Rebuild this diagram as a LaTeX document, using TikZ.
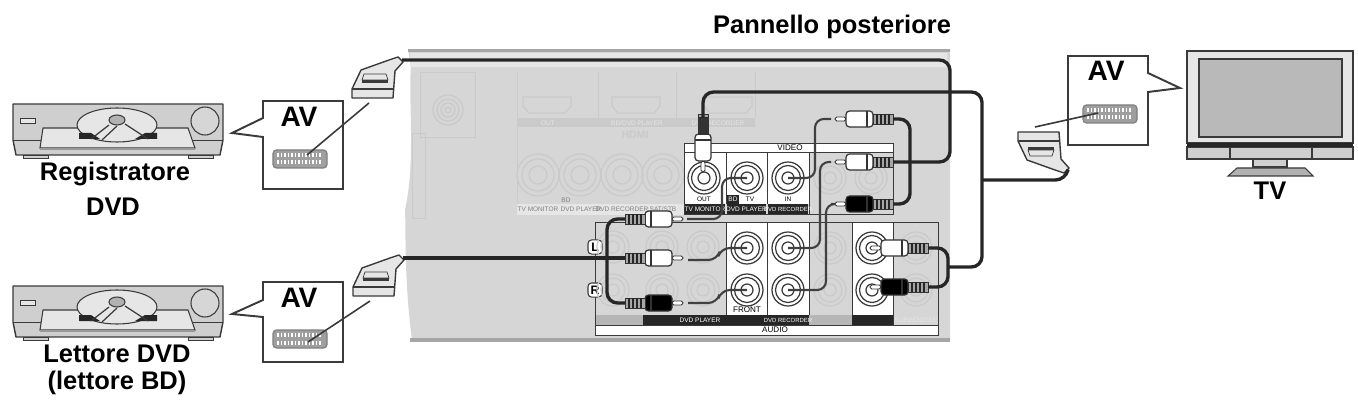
\documentclass[tikz,border=0pt]{standalone}
\usepackage{fontspec}
\setmainfont{Liberation Sans}
\definecolor{panelgrey}{HTML}{D6D6D6}
\definecolor{ghost}{HTML}{CACACA}
\definecolor{ghostlight}{HTML}{E6E6E6}
\definecolor{devicegrey}{HTML}{CFCFCF}
\definecolor{inkgrey}{HTML}{3A3A3A}
\tikzset{
    bigtext/.style={font=\fontsize{14.5}{16}\selectfont\bfseries, inner sep=0pt},
    avtext/.style={font=\fontsize{16}{18}\selectfont\bfseries, inner sep=0pt},
    smalltext/.style={font=\fontsize{3.7}{4}\selectfont, inner sep=0pt},
    ghosttext/.style={smalltext, text=ghostlight},
    boxletter/.style={draw=inkgrey, fill=white, rounded corners=2pt, line width=0.6pt, minimum size=8pt, inner sep=0pt, font=\fontsize{7}{8}\selectfont\bfseries},
    plate/.style={draw=inkgrey, line width=0.5pt},
    cable/.style={draw=black!85, line width=1.9pt, rounded corners=6pt},
    thinwire/.style={draw=black!75, line width=1.2pt, rounded corners=5pt},
    callout/.style={draw=inkgrey, line width=1.1pt, fill=white, line join=miter},
    leader/.style={draw=inkgrey, line width=0.9pt},
    pics/rca/.style={code={
        \draw[draw=black!80, fill=white, line width=0.5pt, rounded corners=1pt] (0,-2) rectangle (11,2);
        \draw[draw=black!80, fill=#1, line width=0.7pt, rounded corners=2pt] (11,-8) rectangle (38,8);
        \draw[draw=black!80, line width=0.8pt] (32,-8) -- (32,8);
        \draw[draw=black!80, fill=gray!70, line width=0.5pt] (38,-5) rectangle (58,5);
        \foreach \rib in {42,46,50,54} {\draw[black!85, line width=0.7pt] (\rib,-5) -- (\rib,5);}
        \coordinate (-end) at (58,0);
    }},
    pics/scart/.style={code={
        \draw[draw=inkgrey, fill=ghostlight, line width=0.8pt, line join=round]
            (-50,29) -- (-41,10) -- (-13,0) -- (-4,-3) -- (1,2) -- (-7,11) -- (-9,38) -- (-50,38) -- cycle;
        \draw[draw=inkgrey, line width=0.7pt] (-50,29) -- (-9,29);
        \fill[inkgrey] (-40,20) rectangle (-14,23);
        \draw[draw=inkgrey, line width=0.4pt] (-38,14) -- (-16,14) -- (-14,20) -- (-40,20) -- cycle;
        \coordinate (-neck) at (0,0);
        \coordinate (-lead) at (-33,43);
    }},
    pics/socket/.style={code={
        \draw[draw=gray, fill=gray!75, line width=0.7pt, rounded corners=2pt] (-27,-9) rectangle (27,9);
        \foreach \pin in {-23,-19.5,...,21} {
            \fill[white] (\pin,-6) rectangle ++(1.8,4);
            \fill[white] (\pin,1.5) rectangle ++(1.8,4);
        }
    }},
    pics/recorder/.style={code={
        \draw[draw=inkgrey, fill=devicegrey, line width=0.8pt, line join=round]
            (0,0) -- (210,0) -- (210,36) -- (207,51) -- (3,51) -- (0,36) -- cycle;
        \draw[draw=inkgrey, line width=0.5pt] (0,36) -- (30,36) (178,36) -- (210,36);
        \draw[draw=inkgrey, line width=0.5pt] (30,24) -- (64,24) (144,24) -- (175,24);
        \draw[draw=inkgrey, fill=ghostlight, line width=0.6pt] (30,24) -- (175,24) -- (182,44) -- (27,44) -- cycle;
        \fill[gray!80] (27,44) rectangle (182,46);
        \draw[draw=inkgrey, fill=ghostlight, line width=0.6pt] (104,21) ellipse (40 and 17);
        \fill[black!85] (66,29) -- (78,29) -- (87,35) -- (66,35) -- cycle;
        \fill[black!85] (144,29) -- (132,29) -- (122,35) -- (144,35) -- cycle;
        \draw[draw=inkgrey, line width=0.7pt] (96,21) -- (78,35) (104,22) -- (89,36) (112,20) -- (135,35);
        \draw[draw=inkgrey, fill=gray!60, line width=0.6pt] (104,16) ellipse (8 and 5);
        \draw[draw=inkgrey, fill=panelgrey, line width=0.6pt] (192,17) circle (14);
        \draw[draw=inkgrey, fill=ghostlight, line width=0.5pt] (7,14) rectangle (22,19);
        \draw[draw=inkgrey, fill=devicegrey, line width=0.5pt] (10,51) rectangle (35,54);
        \draw[draw=inkgrey, fill=devicegrey, line width=0.5pt] (175,51) rectangle (200,54);
    }},
}
\begin{document}
\begin{tikzpicture}[x=0.02cm, y=-0.02cm]
            \useasboundingbox (0,0) rectangle (1358,405);

            \fill[panelgrey] (408,50) -- (950,50) -- (950,340) -- (412,340) .. controls (404,280) and (406,230) .. (405,210) .. controls (416,160) and (408,100) .. (411,66) -- (408,50) -- cycle;
            \fill[ghostlight] (410,53) rectangle (947,67);
            \fill[gray!70] (408,49) rectangle (950,52);
            \fill[gray!70] (410,338) rectangle (950,342);
            \fill[ghostlight] (800,67) arc (180:0:13 and -10) -- cycle;

            \draw[ghost, line width=0.5pt] (420,72) rectangle (475,137);
            \draw[ghost, line width=0.5pt] (412,133) rectangle (425,218);
            \foreach \r in {15,11,7,3} {\draw[ghost, line width=0.7pt] (448,110) circle (\r);}
            \draw[ghost, line width=0.5pt] (517,72) -- (517,215) (598,72) -- (598,118) (676,72) -- (676,118) (755,72) -- (755,118);
            \fill[ghost] (517,118) rectangle (755,127);
            \foreach \hx in {547,636,728} {
                \draw[ghost, line width=0.7pt, fill=panelgrey] (\hx-24,97) -- (\hx+24,97) -- (\hx+24,106) -- (\hx+18,113) -- (\hx-18,113) -- (\hx-24,106) -- cycle;
            }
            \node[ghosttext] (outlabel) at (548,123) {OUT};
            \node[ghosttext] (bdlabel) at (637,123) {BD/DVD PLAYER};
            \node[ghosttext] (dvdlabel) at (718,123) {DVD RECORDER};
            \node[smalltext, text=ghost, font=\fontsize{6}{7}\selectfont\bfseries] (hdmilabel) at (635,135) {HDMI};
            \foreach \sx in {538,580,622,663} {
                \foreach \r in {21,16,9} {\draw[ghost, line width=0.7pt] (\sx,175) circle (\r);}
            }
            \fill[ghostlight] (517,204) rectangle (684,215);
            \node[smalltext, text=gray] (svone) at (538,209) {TV MONITOR};
            \node[smalltext, text=gray] (svtwo) at (581,209) {DVD PLAYER};
            \node[smalltext, text=gray] (svthree) at (622,209) {DVD RECORDER};
            \node[smalltext, text=gray] (svfour) at (663,209) {SAT/STB};
            \node[smalltext, text=gray] (svbd) at (566,200) {BD};

            \fill[white] (684,143) rectangle (810,204);
            \fill[white] (810,143) rectangle (893,152);
            \draw[plate] (684,143) rectangle (893,214);
            \draw[plate] (684,152) -- (893,152);
            \draw[plate] (726,152) -- (726,204) (767,152) -- (767,204) (809,152) -- (809,214);
            \fill[black!85] (685,204) rectangle (725,214);
            \fill[black!85] (727,204) rectangle (766,214);
            \fill[black!85] (768,204) rectangle (808,214);
            \fill[black!85] (727,195) rectangle (739,204);
            \node[smalltext, text=white] (monitorlabel) at (705,209) {TV MONITOR};
            \node[smalltext, text=white] (playerlabel) at (746.5,209) {DVD PLAYER};
            \node[smalltext, text=white, font=\fontsize{3.4}{4}\selectfont] (recorderlabel) at (788,209) {DVD RECORDER};
            \node[smalltext] (monout) at (704,199) {OUT};
            \node[smalltext, text=white] (playbd) at (733,199.5) {BD};
            \node[smalltext] (playtv) at (750,199.5) {TV};
            \node[smalltext] (recin) at (788,199) {IN};
            \node[smalltext, font=\fontsize{4.6}{5}\selectfont] (videolabel) at (790,148) {VIDEO};

            \fill[white] (726,222) rectangle (809,315);
            \fill[white] (852,222) rectangle (893,315);
            \fill[white] (595,325) rectangle (938,335);
            \fill[ghost!90!black] (595,315) rectangle (643,325);
            \fill[ghost!90!black] (809,315) rectangle (852,325);
            \fill[black!85] (643,315) rectangle (809,325);
            \fill[black!85] (852,315) rectangle (893,325);
            \draw[plate] (595,222) rectangle (938,335);
            \draw[plate] (595,325) -- (938,325);
            \draw[plate] (726,222) -- (726,315) (767,222) -- (767,315) (809,222) -- (809,315) (852,222) -- (852,315) (893,222) -- (893,325);
            \node[smalltext, text=white] (audiolabela) at (700,320) {DVD PLAYER};
            \node[smalltext, text=white, font=\fontsize{3.4}{4}\selectfont] (audiolabelb) at (788,320) {DVD RECORDER};
            \node[ghosttext] (subwlabel) at (916,320) {SUBWOOFER};
            \node[smalltext, font=\fontsize{4.6}{5}\selectfont] (frontlabel) at (747,310) {FRONT};
            \node[smalltext, font=\fontsize{4.6}{5}\selectfont] (audiolabel) at (775,330) {AUDIO};
            \node[boxletter] (lbox) at (595,247) {L};
            \node[boxletter] (rbox) at (595,290) {R};

            \foreach \gx/\gy in {613/247,662/247,703/247,613/290,662/290,703/290,830/178,871/178,830/248,830/290,916/248,916/290} {
                \foreach \r in {16,12,6} {\draw[ghost, line width=0.7pt] (\gx,\gy) circle (\r);}
            }
            \foreach \n/\jx/\jy in {jmon/704/178,jplay/747/178,jrec/788/178,jfl/747/248,jfr/747/290,jrl/788/248,jrr/788/290,jol/872/248,jor/872/290} {
                \draw[inkgrey, line width=0.7pt] (\jx,\jy) circle (16);
                \draw[inkgrey, line width=0.7pt] (\jx,\jy) circle (12.5);
                \draw[inkgrey, line width=0.7pt] (\jx,\jy) circle (6);
                \coordinate (\n) at (\jx,\jy);
            }

            \pic (pa) at (835,119) {rca=white};
            \pic (pb) at (835,162) {rca=white};
            \pic (pc) at (835,204) {rca=black};
            \pic (pd) [xscale=-1] at (683,219) {rca=white};
            \pic (pe) [xscale=-1] at (683,258) {rca=white};
            \pic (pf) [xscale=-1] at (683,303) {rca=black};
            \pic (pg) [rotate=90] at (703,172) {rca=white};
            \fill[black!80] (698,118) rectangle (708,134);
            \coordinate (pgtop) at (703,118);
            \pic (ph) at (870,248) {rca=white};
            \pic (pi) at (870,287) {rca=black};

            \pic (st) at (402,60) {scart};
            \pic (sb) at (403,258) {scart};
            \pic (stv) [yscale=-1] at (1068,170) {scart};

            \draw[cable] (st-neck) -- (950,60) -- (950,162) -- (pb-end);
            \draw[cable] (sb-neck) -- (pe-end);
            \draw[cable] (pa-end) -- (910,119) -- (910,204) -- (pc-end);
            \draw[cable] (pd-end) -- (607,219) -- (607,303) -- (pf-end);
            \draw[cable] (pgtop) -- (703,92) -- (982,92) -- (982,267) -- (948,267);
            \draw[cable] (ph-end) -- (948,248) -- (948,287) -- (pi-end);
            \coordinate (tvjoin) at (982,180);
            \draw[cable] (tvjoin) -- (1066,180) -- (stv-neck);

            \draw[thinwire] (jrec) -- (815,178) -- (815,119) -- (831,119);
            \draw[thinwire] (jrl) -- (820,248) -- (820,162) -- (831,162);
            \draw[thinwire] (jrr) -- (826,290) -- (826,204) -- (831,204);
            \draw[thinwire] (jplay) -- (722,178) -- (722,219) -- (687,219);
            \draw[thinwire] (jfl) -- (721,248) -- (717,260) -- (688,260);
            \draw[thinwire] (jfr) -- (721,290) -- (717,303) -- (688,303);

            \draw[callout] (263,101) -- (343,101) -- (343,189) -- (263,189) -- (263,137) -- (232,133) -- (263,118) -- cycle;
            \draw[callout] (263,282) -- (343,282) -- (343,362) -- (263,362) -- (263,317) -- (232,314) -- (263,300) -- cycle;
            \draw[callout] (1068,56) -- (1148,56) -- (1148,73) -- (1180,88) -- (1148,92) -- (1148,145) -- (1068,145) -- cycle;
            \node[avtext] (avone) at (299,117) {AV};
            \node[avtext] (avtwo) at (299,298) {AV};
            \node[avtext] (avtv) at (1106,71) {AV};

            \pic (skone) at (300,159) {socket};
            \pic (sktwo) at (300,339) {socket};
            \pic (sktv) at (1110,114) {socket};
            \coordinate (pinone) at (307,155);
            \coordinate (pintwo) at (308,342);
            \coordinate (pintv) at (1098,113);
            \draw[leader] (st-lead) -- (pinone);
            \draw[leader] (sb-lead) -- (pintwo);
            \draw[leader] (stv-lead) -- (pintv);

            \pic (dvdrec) at (13,104) {recorder};
            \pic (dvdplay) at (13,286) {recorder};

            \draw[draw=inkgrey, fill=ghostlight, line width=0.8pt] (1187,51) rectangle (1353,143);
            \draw[draw=inkgrey, fill=gray!55, line width=0.9pt] (1199,59) rectangle (1342,137);
            \draw[draw=inkgrey, fill=devicegrey, line width=0.6pt] (1187,147) rectangle (1353,159);
            \draw[draw=inkgrey, line width=0.6pt] (1230,147) -- (1230,159) (1312,147) -- (1312,159);
            \fill[black!85] (1187,143) rectangle (1353,147);
            \draw[draw=inkgrey, fill=devicegrey, line width=0.6pt] (1253,159) rectangle (1287,167);
            \draw[draw=inkgrey, fill=gray!60, line width=0.6pt] (1237,168) -- (1305,168) -- (1313,176) -- (1228,176) -- cycle;

            \node[bigtext] (rear) at (832,27) {Pannello posteriore};
            \node[bigtext] (rec) at (115,174) {Registratore};
            \node[bigtext] (recb) at (113,207) {DVD};
            \node[bigtext] (play) at (117,354) {Lettore DVD};
            \node[bigtext] (playb) at (117,383) {(lettore BD)};
            \node[bigtext] (tv) at (1270,191) {TV};
        \end{tikzpicture}
\end{document}
